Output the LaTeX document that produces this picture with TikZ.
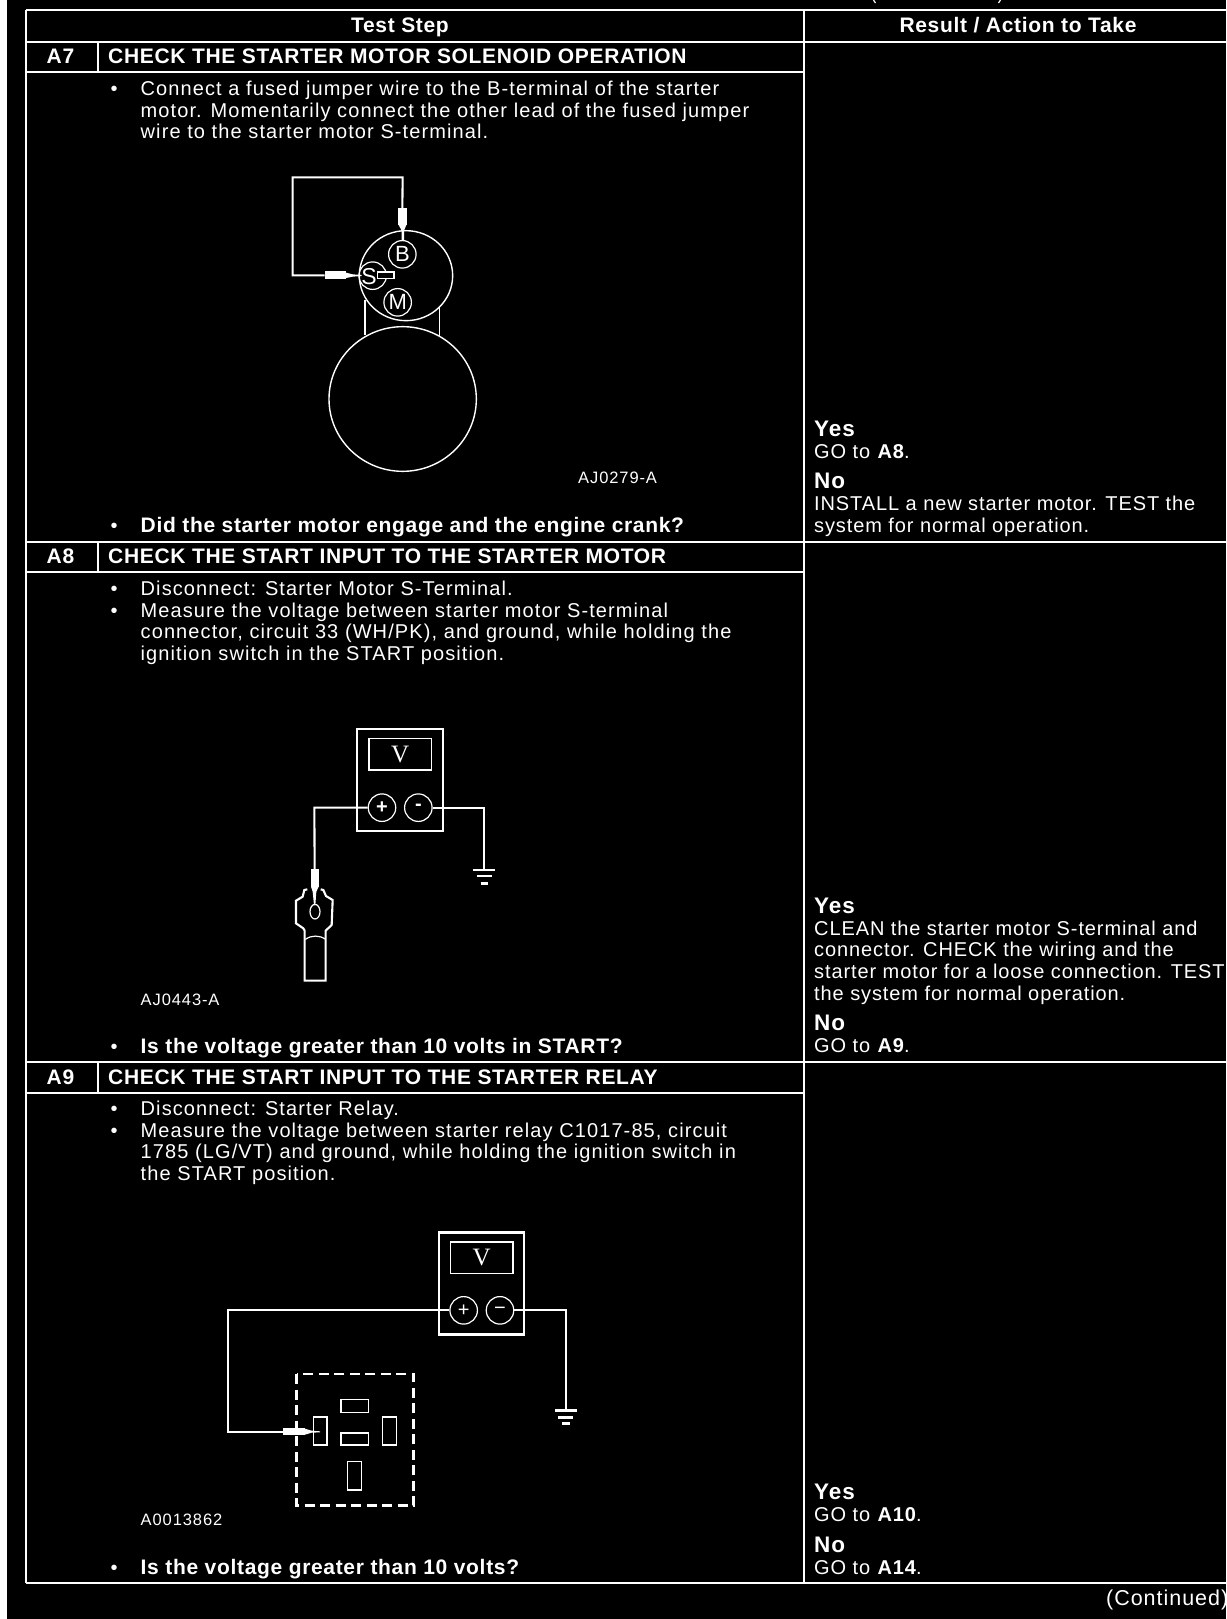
\documentclass[tikz,border=0pt]{standalone}
\usepackage{fontspec}
\setmainfont{Liberation Sans}
\newfontfamily\metfont{Liberation Serif}
\newfontfamily\bodyf[LetterSpace=5.5]{Liberation Sans}
\newfontfamily\rightf[LetterSpace=4.5]{Liberation Sans}
\newfontfamily\hedf[LetterSpace=3.2]{Liberation Sans}
\tikzset{
 px/.style={x=1pt,y=-1pt},
 zoom/.style={x=0.33333pt,y=-0.33333pt},
 rule/.style={draw=white,line width=2pt},
 wire/.style={draw=white,line width=2.1pt},
 thin line/.style={draw=white,line width=1.2pt},
 txt/.style={anchor=base west,inner sep=0pt,text=white,font=\bodyf\fontsize{20}{24}\selectfont},
 rtxt/.style={txt,font=\rightf\fontsize{20}{24}\selectfont},
 hed/.style={txt,font=\hedf\fontsize{21}{24}\selectfont\bfseries},
 ctr/.style={hed,anchor=base},
 yesno/.style={txt,font=\rightf\fontsize{22.5}{24}\selectfont\bfseries},
 code/.style={txt,font=\bodyf\fontsize{16.5}{20}\selectfont},
 term/.style={circle,draw=white,line width=1.2pt,minimum size=27.5pt,inner sep=0pt,text=white,font=\fontsize{22}{22}\selectfont},
 probe/.style={fill=white,inner sep=0pt},
 meter/.style={rectangle,draw=white,line width=2.2pt,inner sep=0pt,minimum width=86pt,minimum height=102pt},
 display/.style={rectangle,draw=white,line width=1.2pt,inner sep=0pt,minimum width=62.5pt,minimum height=31.5pt,text=white,font=\metfont\fontsize{25}{25}\selectfont},
 smallbox/.style={draw=white,line width=1.2pt},
 gnd/.style={draw=white,line width=2.4pt},
}
\newcommand{\bul}[2]{\node[txt] (#1) at (110.3,#2) {•};}
\begin{document}
\begin{tikzpicture}[px]
\useasboundingbox (0,0) rectangle (1226,1619);
\fill[black] (0,0) rectangle (1226,1619);
\fill[white] (0,0) rectangle (7,1619);
% table rules
\coordinate (tl) at (26,10.5); \coordinate (tm) at (803.5,10.5); \coordinate (tr) at (1226,10.5);
\coordinate (bl) at (26,1583); \coordinate (bm) at (803.5,1583); \coordinate (br) at (1226,1583);
\draw[rule] (tl)--(tr) (bl)--(br) (tl)--(bl) (tm)--(bm);
\draw[rule] (26,41.7)--(1226,41.7) (26,72)--(803.5,72) (98.3,41.7)--(98.3,72);
\draw[rule] (26,541.7)--(1226,541.7) (26,572)--(803.5,572) (98.3,541.7)--(98.3,572);
\draw[rule] (26,1062)--(1226,1062) (26,1093)--(803.5,1093) (98.3,1062)--(98.3,1093);
% fragments of the text above the table
\draw[thin line] (873.5,0) .. controls (873.8,1.5) and (874.5,2) .. (875.5,3);
\draw[thin line] (1000.5,0) .. controls (1000.2,1.5) and (999.5,2) .. (998.5,3);
% headers
\node[ctr] (h1) at (400,32.3) {Test Step};
\node[ctr] (h2) at (1018,32.3) {Result / Action to Take};
% A7
\node[ctr] (a7) at (60.5,63.3) {A7};
\node[hed] (a7h) at (108,63.3) {CHECK THE STARTER MOTOR SOLENOID OPERATION};
\bul{a7b1}{95}
\node[txt] (a7t1) at (140.5,95) {Connect a fused jumper wire to the B-terminal of the starter};
\node[txt] (a7t2) at (140.5,117) {motor. Momentarily connect the other lead of the fused jumper};
\node[txt] (a7t3) at (140.5,138.5) {wire to the starter motor S-terminal.};
\node[code] (a7c) at (578,483) {AJ0279-A};
\bul{a7b2}{532}
\node[hed] (a7q) at (140.5,532) {Did the starter motor engage and the engine crank?};
\node[yesno] (a7y) at (814,436) {Yes};
\node[rtxt] (a7r1) at (814,458) {GO to \textbf{A8}.};
\node[yesno] (a7n) at (814,488) {No};
\node[rtxt] (a7r2) at (814,510) {INSTALL a new starter motor. TEST the};
\node[rtxt] (a7r3) at (814,532) {system for normal operation.};
% A8
\node[ctr] (a8) at (60.5,563.3) {A8};
\node[hed] (a8h) at (108,563.3) {CHECK THE START INPUT TO THE STARTER MOTOR};
\bul{a8b1}{595}
\node[txt] (a8t1) at (140.5,595) {Disconnect: Starter Motor S-Terminal.};
\bul{a8b2}{617}
\node[txt] (a8t2) at (140.5,617) {Measure the voltage between starter motor S-terminal};
\node[txt] (a8t3) at (140.5,638) {connector, circuit 33 (WH/PK), and ground, while holding the};
\node[txt] (a8t4) at (140.5,660) {ignition switch in the START position.};
\node[code] (a8c) at (140.5,1005) {AJ0443-A};
\bul{a8b3}{1053.5}
\node[hed] (a8q) at (140.5,1053.5) {Is the voltage greater than 10 volts in START?};
\node[yesno] (a8y) at (814,913) {Yes};
\node[rtxt] (a8r1) at (814,935) {CLEAN the starter motor S-terminal and};
\node[rtxt] (a8r2) at (814,956.7) {connector. CHECK the wiring and the};
\node[rtxt] (a8r3) at (814,978) {starter motor for a loose connection. TEST};
\node[rtxt] (a8r4) at (814,1000) {the system for normal operation.};
\node[yesno] (a8n) at (814,1030.7) {No};
\node[rtxt] (a8r5) at (814,1052.7) {GO to \textbf{A9}.};
% A9
\node[ctr] (a9) at (60.5,1084.3) {A9};
\node[hed] (a9h) at (108,1084.3) {CHECK THE START INPUT TO THE STARTER RELAY};
\bul{a9b1}{1115}
\node[txt] (a9t1) at (140.5,1115) {Disconnect: Starter Relay.};
\bul{a9b2}{1137}
\node[txt] (a9t2) at (140.5,1137) {Measure the voltage between starter relay C1017-85, circuit};
\node[txt] (a9t3) at (140.5,1158.5) {1785 (LG/VT) and ground, while holding the ignition switch in};
\node[txt] (a9t4) at (140.5,1180) {the START position.};
\node[code] (a9c) at (140.5,1525) {A0013862};
\bul{a9b3}{1574}
\node[hed] (a9q) at (140.5,1574) {Is the voltage greater than 10 volts?};
\node[yesno] (a9y) at (814,1499) {Yes};
\node[rtxt] (a9r1) at (814,1521) {GO to \textbf{A10}.};
\node[yesno] (a9n) at (814,1552) {No};
\node[rtxt] (a9r2) at (814,1574) {GO to \textbf{A14}.};
\node[rtxt,anchor=base west,font=\rightf\fontsize{21.5}{24}\selectfont] (cont) at (1106,1605) {(Continued)};
% ---- A7 figure
\begin{scope}[shift={(270,160)},zoom]
 \draw[thin line,line width=1.4pt] (408,347) ellipse [x radius=140,y radius=135];
 \draw[thin line,line width=1.4pt] (398,717) ellipse [x radius=221,y radius=217];
 \draw[thin line,line width=1.4pt] (285,420)--(285,525) (508,440)--(508,530);
 \node[term] (tb) at (397,283) {B};
 \node[term] (tm) at (383,427) {M};
 \node[term] (ts) at (308,347) {};
 \node[inner sep=0pt,text=white,font=\fontsize{23}{23}\selectfont] (tsl) at (297,350) {S};
 \node[rectangle,draw=white,fill=black,line width=1.2pt,inner sep=0pt,minimum width=16.5pt,minimum height=6.5pt] (sb) at (347,346) {};
 \node[probe,minimum width=8.5pt,minimum height=16.5pt] (pb) at (397,170) {};
 \fill[white] (386,195)--(409,195)--(402,212)--(402,240)--(395,240)--(395,212)--cycle;
 \node[probe,minimum width=21pt,minimum height=8pt] (ps) at (196,346) {};
 \fill[white] (228,338)--(228,354)--(248,350)--(275,348)--(275,345)--(248,343)--cycle;
 \coordinate (w1) at (68,52); \coordinate (w2) at (398,52); \coordinate (w3) at (68,346);
 \draw[wire] (ps.west)--(w3)--(w1)--(w2)--(pb.north);
\end{scope}
% ---- A8 figure
\begin{scope}[shift={(270,710)},zoom]
 \node[meter] (m8) at (389,209.5) {};
 \node[display] (d8) at (390.5,132.5) {V};
 \node[term,font=\fontsize{20}{20}\selectfont\bfseries] (p8) at (336,293) {+};
 \node[term,font=\fontsize{20}{20}\selectfont\bfseries] (n8) at (445,293) {-};
 \node[probe,minimum width=8pt,minimum height=17.5pt] (pr8) at (134,504) {};
 \fill[white] (123,530)--(146,530)--(139,545)--(136,585)--(132,585)--(128,545)--cycle;
 \coordinate (w81) at (133,293); \coordinate (w82) at (643,293); \coordinate (g8) at (643,480);
 \draw[wire] (p8.west)--(w81)--(pr8.north);
 \draw[wire] (n8.east)--(w82)--(g8);
 \draw[gnd] (608,480)--(675,480) (620,498)--(665,498) (632,520)--(655,520);
 \draw[wire] (112,538)--(103,540)--(98,560)--(78,572)--(78,640)--(100,655)--(104,662)--(104,812)--(167,812)--(167,662)--(185,645)--(188,570)--(168,558)--(160,540)--(152,538);
 \draw[thin line] (135,605) ellipse [x radius=15,y radius=22];
 \draw[thin line] (106,688) .. controls (125,675) and (148,675) .. (167,688);
\end{scope}
% ---- A9 figure
\begin{scope}[shift={(210,1220)},zoom]
 \node[meter,minimum width=85pt] (m9) at (814.5,190.5) {};
 \node[display] (d9) at (815,113.5) {V};
 \node[term,font=\fontsize{20}{20}\selectfont] (p9) at (761,271) {+};
 \node[term,font=\fontsize{20}{20}\selectfont] (n9) at (870,271) {−};
 \node[probe,minimum width=21.5pt,minimum height=7.5pt] (pr9) at (252,635) {};
 \fill[white] (285,626)--(285,644)--(305,638)--(330,637)--(330,634)--(305,632)--cycle;
 \coordinate (w91) at (55,271); \coordinate (w92) at (55,635); \coordinate (w93) at (1068,271); \coordinate (g9) at (1068,572);
 \draw[wire] (p9.west)--(w91)--(w92)--(pr9.west);
 \draw[wire] (n9.east)--(w93)--(g9);
 \draw[gnd] (1035,572)--(1100,572) (1045,592)--(1090,592) (1057,611)--(1080,611);
 \draw[draw=white,line width=2.6pt,dash pattern=on 10pt off 5.5pt] (260,462) rectangle (611,857);
 \draw[smallbox] (310,591) rectangle (351,675);
 \draw[smallbox] (393,539) rectangle (475,577);
 \draw[smallbox] (393,639) rectangle (475,675);
 \draw[smallbox] (518,591) rectangle (559,675);
 \draw[smallbox] (413,725) rectangle (455,810);
\end{scope}
\end{tikzpicture}
\end{document}
